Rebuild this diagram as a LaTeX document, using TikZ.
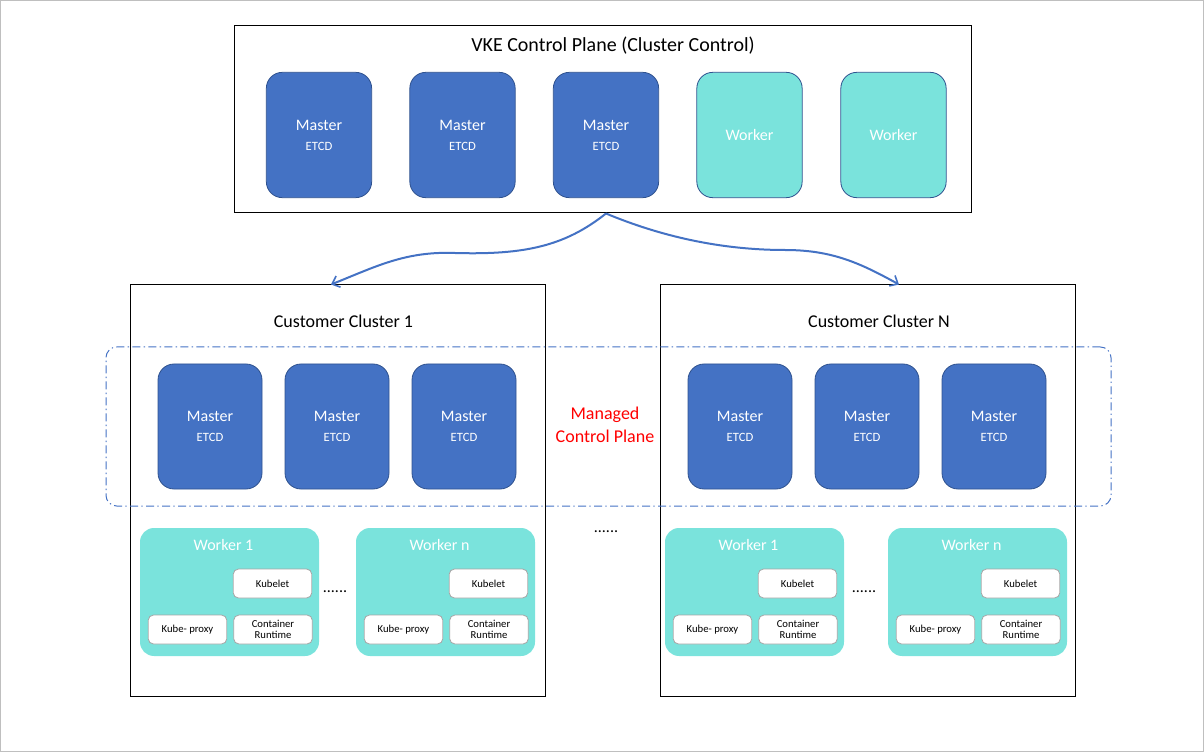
\documentclass[tikz,border=0pt]{standalone}
\usepackage{fontspec}
\setmainfont{Carlito}
\usetikzlibrary{calc,arrows.meta}
\definecolor{mblue}{HTML}{4472C4}
\definecolor{mborder}{HTML}{2F528F}
\definecolor{tealw}{HTML}{7AE3DC}
\definecolor{subgray}{HTML}{A6A6A6}
\definecolor{framegray}{HTML}{BFBFBF}
\begin{document}
\begin{tikzpicture}[x=0.75pt,y=-0.75pt,
  bigbox/.style={draw=black,line width=0.75pt,inner sep=0pt},
  master/.style={draw=mborder,fill=mblue,rounded corners=12pt,line width=0.6pt,text=white,align=center,minimum width=79pt,minimum height=94pt,inner sep=0pt},
  topworker/.style={draw=mborder,fill=tealw,rounded corners=12pt,line width=0.6pt,text=white,minimum width=79pt,minimum height=94pt,inner sep=0pt,font=\fontsize{12}{14}\selectfont},
  wbox/.style={fill=tealw,rounded corners=10.5pt,minimum width=134.25pt,minimum height=96pt,inner sep=0pt},
  wlabel/.style={text=white,font=\fontsize{12}{14}\selectfont,inner sep=0pt},
  subbox/.style={draw=subgray,fill=white,rounded corners=4pt,line width=0.6pt,minimum width=59pt,minimum height=21.75pt,inner sep=0pt,align=center,font=\fontsize{8}{9.5}\selectfont},
  dots/.style={font=\fontsize{12}{14}\selectfont,inner sep=0pt},
  arr/.style={draw=mblue,line width=1.5pt,-{Straight Barb[length=5pt,width=9pt,line width=1.2pt]}},
  ttl/.style={inner sep=0pt,font=\fontsize{13.5}{16}\selectfont}]
\newcommand{\mtext}{{\fontsize{12}{14}\selectfont Master}\\[3pt]{\fontsize{9.5}{11}\selectfont ETCD}}
\useasboundingbox (0,0) rectangle (1204,752);
\draw[framegray,line width=0.75pt] (0.5,0.5) rectangle (1203.5,751.5);

% VKE control plane
\node[bigbox,minimum width=552.75pt,minimum height=140.25pt] (vke) at (602.5,119.5) {};
\node[inner sep=0pt,font=\fontsize{15}{18}\selectfont] (vket) at (613,46) {VKE Control Plane (Cluster Control)};
\node[master] (tm1) at (319,135) {\mtext};
\node[master] (tm2) at (462.5,135) {\mtext};
\node[master] (tm3) at (606,135) {\mtext};
\node[topworker] (tw1) at (749.5,135) {Worker};
\node[topworker] (tw2) at (893.5,135) {Worker};

% customer clusters
\node[bigbox,minimum width=311.25pt,minimum height=308.25pt] (c1) at (337.5,490.5) {};
\node[bigbox,minimum width=311.25pt,minimum height=308.25pt] (cn) at (867.5,490.5) {};
\node[ttl] (c1t) at (343.5,321) {Customer Cluster 1};
\node[ttl] (cnt) at (879,321) {Customer Cluster N};

% managed control plane region
\node[draw=mblue,line width=0.75pt,dash pattern=on 6pt off 2.5pt on 1pt off 2.5pt,rounded corners=8pt,minimum width=753.75pt,minimum height=119.25pt,inner sep=0pt] (mcp) at (608.5,426.5) {};
\node[text=red,align=center,inner sep=0pt,font=\fontsize{13.5}{17}\selectfont] (mcpt) at (605,425) {Managed\\Control Plane};

\foreach \nm/\x in {a1/210,a2/337,a3/464,b1/740,b2/867,b3/994}{
  \node[master,minimum width=78pt,minimum height=93.75pt] (m\nm) at (\x,426.5) {\mtext};
}

% workers
\foreach \nm/\x/\lab in {p/140/Worker 1,q/356/Worker n,r/665/Worker 1,s/888/Worker n}{
  \node[wbox] (w\nm) at (\x+89.5,592) {};
  \node[wlabel] (w\nm t) at ($(w\nm.north)+(-6,17)$) {\lab};
  \node[subbox] (w\nm k) at (\x+132.5,583.5) {Kubelet};
  \node[subbox] (w\nm p) at (\x+47.5,629.5) {Kube- proxy};
  \node[subbox] (w\nm c) at (\x+133,629.5) {Container\\[-1pt]Runtime};
}
\node[dots] (d1) at (335,592) {......};
\node[dots] (d2) at (864,592) {......};
\node[dots] (d3) at (606,532) {......};

% connectors
\coordinate (apex) at ($(vke.south)+(3.5,0)$);
\coordinate (c1in) at ($(c1.north)+(-6.5,0)$);
\coordinate (cnin) at ($(cn.north)+(31.5,0)$);
\coordinate (lw) at (455,253);
\coordinate (rw) at (785,250);
\draw[arr] (apex) .. controls (565,246) and (525,255) .. (lw) .. controls (405,251) and (375,267) .. (c1in);
\draw[arr] (apex) .. controls (660,236) and (720,250) .. (rw) .. controls (832,250) and (860,263) .. (cnin);
\end{tikzpicture}
\end{document}
